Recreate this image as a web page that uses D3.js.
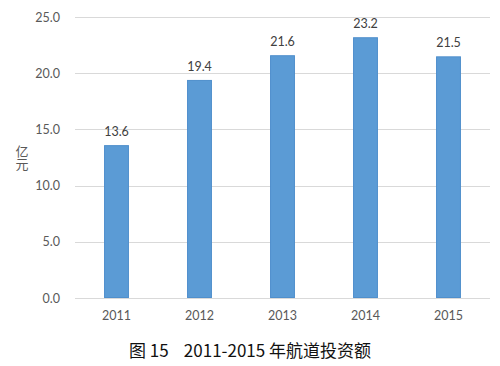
<!DOCTYPE html>
<html>
<head>
<meta charset="utf-8">
<script src="https://cdn.jsdelivr.net/npm/d3@7"></script>
<style>
  body { margin: 0; background: #fff; }
  svg { display: block; }
</style>
</head>
<body>
<svg id="chart" width="500" height="366"></svg>
<script>
const years = ["2011", "2012", "2013", "2014", "2015"];
const values = [13.6, 19.4, 21.6, 23.2, 21.5];
const yTicks = [0, 5, 10, 15, 20, 25];
const yLabel = "亿元";
const title = "图 15\u00a0\u00a0\u00a0\u00a02011-2015 年航道投资额";

const svg = d3.select("#chart");
const font = "Lato, 'Open Sans', sans-serif";

let x = d3.scaleBand().domain(years).range([75, 490]).paddingInner(0.7).paddingOuter(0.35);
let y = d3.scaleLinear().domain([0, 25]).range([298, 17]);

// grid lines
svg.append("g")
    .selectAll("line")
    .data(yTicks)
    .join("line")
    .attr("x1", 75)
    .attr("x2", 490)
    .attr("y1", (d) => Math.round(y(d)) + 0.5)
    .attr("y2", (d) => Math.round(y(d)) + 0.5)
    .attr("stroke", "#d9d9d9")
    .attr("stroke-width", 1);

// y axis labels
let yAxis = svg.append("g")
    .attr("transform", "translate(60,0)")
    .call(d3.axisLeft(y).tickValues(yTicks).tickFormat(d3.format(".1f")).tickSize(0).tickPadding(0));
yAxis.select(".domain").remove();
yAxis.selectAll("text")
    .attr("font-family", font)
    .attr("font-size", 12.5)
    .attr("fill", "#595959");

// x axis labels
let xAxis = svg.append("g")
    .attr("transform", "translate(0,298)")
    .call(d3.axisBottom(x).tickSize(0).tickPadding(13));
xAxis.select(".domain").remove();
xAxis.selectAll("text")
    .attr("font-family", font)
    .attr("font-size", 12.5)
    .attr("fill", "#595959");

// bars
svg.append("g")
    .selectAll("rect")
    .data(values)
    .join("rect")
    .attr("x", (d, i) => x(years[i]) + 0.5)
    .attr("y", (d) => y(d) + 0.5)
    .attr("width", x.bandwidth() - 1)
    .attr("height", (d) => y(0) - y(d) - 1)
    .attr("fill", "#5b9bd5")
    .attr("stroke", "#4f8fcc")
    .attr("stroke-width", 1);

// value labels
svg.append("g")
    .selectAll("text")
    .data(values)
    .join("text")
    .attr("x", (d, i) => x(years[i]) + x.bandwidth() / 2)
    .attr("y", (d) => y(d) - 9)
    .attr("text-anchor", "middle")
    .attr("font-family", font)
    .attr("font-size", 12.5)
    .attr("fill", "#404040")
    .text((d) => d.toFixed(1));

// vertical unit label, characters stacked upright
svg.append("text")
    .attr("x", 22)
    .attr("y", 158)
    .attr("text-anchor", "middle")
    .style("writing-mode", "vertical-rl")
    .style("text-orientation", "upright")
    .attr("font-family", "'Noto Sans CJK SC', sans-serif")
    .attr("font-size", 13)
    .attr("fill", "#595959")
    .text(yLabel);

// caption
svg.append("text")
    .attr("x", 250)
    .attr("y", 357)
    .attr("text-anchor", "middle")
    .attr("font-family", "'Noto Sans CJK SC', sans-serif")
    .attr("font-size", 17)
    .attr("fill", "#111")
    .text(title);
</script>
</body>
</html>
